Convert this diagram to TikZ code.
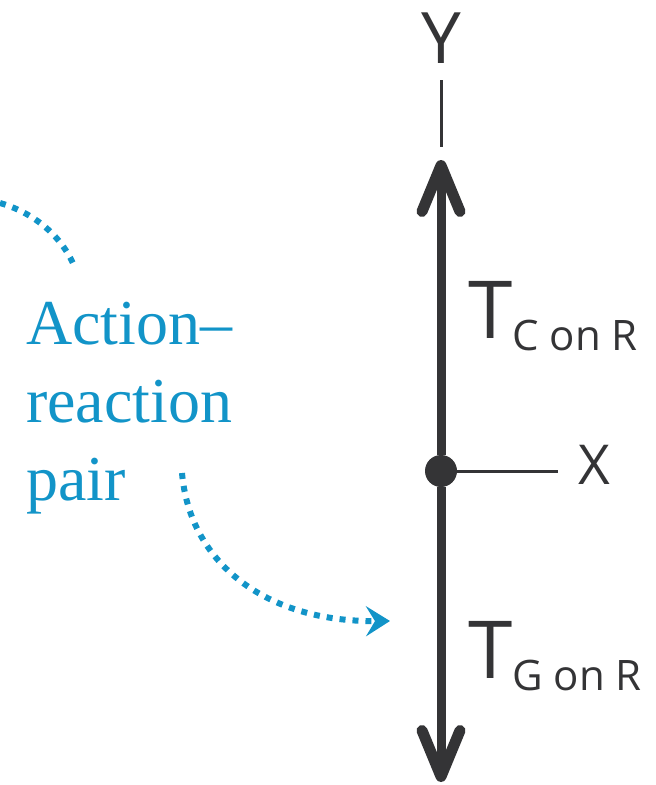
\documentclass[tikz,border=0pt]{standalone}
\usepackage{fontspec}
\setmainfont{Liberation Serif}
\newfontfamily\handfont{Open Sans}
\usetikzlibrary{arrows.meta}

\definecolor{pairblue}{RGB}{18,148,200}
\definecolor{inkgray}{RGB}{52,52,54}

\begin{document}
\begin{tikzpicture}[x=1pt,y=-1pt,
  force/.style={draw=inkgray,line width=9pt,
    -{Straight Barb[length=46pt,width=38pt,round,line width=11pt]}},
  axis/.style={draw=inkgray,line width=3pt},
  dot/.style={circle,fill=inkgray,inner sep=0pt,minimum size=32pt},
  hand/.style={text=inkgray,font=\handfont,inner sep=0pt},
  pairlink/.style={draw=pairblue,line width=6pt,dash pattern=on 6pt off 7pt},
  every node/.style={inner sep=0pt}]
\useasboundingbox (0,0) rectangle (656,785);
% axes
\node[dot] (origin) at (441,471) {};
\coordinate (ytop) at (441,80);
\coordinate (ybot) at (441,147);
\coordinate (xend) at (558,471);
\draw[axis] (ytop) -- (ybot);
\draw[axis] (origin) -- (xend);
\node[hand,font=\handfont\fontsize{71}{71}\selectfont] (ylab) at (441,38) {Y};
\node[hand,font=\handfont\fontsize{55}{55}\selectfont] (xlab) at (594,465) {X};
% forces
\coordinate (up) at (441,160);
\coordinate (down) at (441,782);
\draw[force] (origin) -- (up);
\draw[force] (origin) -- (down);
\node[hand,anchor=base west] (tcr) at (468,338)
  {\fontsize{80}{80}\selectfont T\raisebox{-12pt}{\fontsize{42}{42}\selectfont C on R}};
\node[hand,anchor=base west] (tgr) at (468,678)
  {\fontsize{80}{80}\selectfont T\raisebox{-12pt}{\fontsize{42}{42}\selectfont G on R}};
% action-reaction pair
\node[anchor=base west,align=left,text=pairblue,
  font=\fontsize{64}{78}\selectfont] (pair) at (26,500)
  {Action--\\reaction\\pair};
\coordinate (ain) at (0,203);
\coordinate (aout) at (75,268);
\coordinate (bin) at (182,473);
\coordinate (bout) at (390,621);
\draw[pairlink] (ain) .. controls (38,214) and (64,240) .. (aout);
\draw[pairlink,-{Stealth[length=24pt,width=30pt,inset=9pt]}]
  (bin) .. controls (190,565) and (268,622) .. (bout);
\end{tikzpicture}
\end{document}
